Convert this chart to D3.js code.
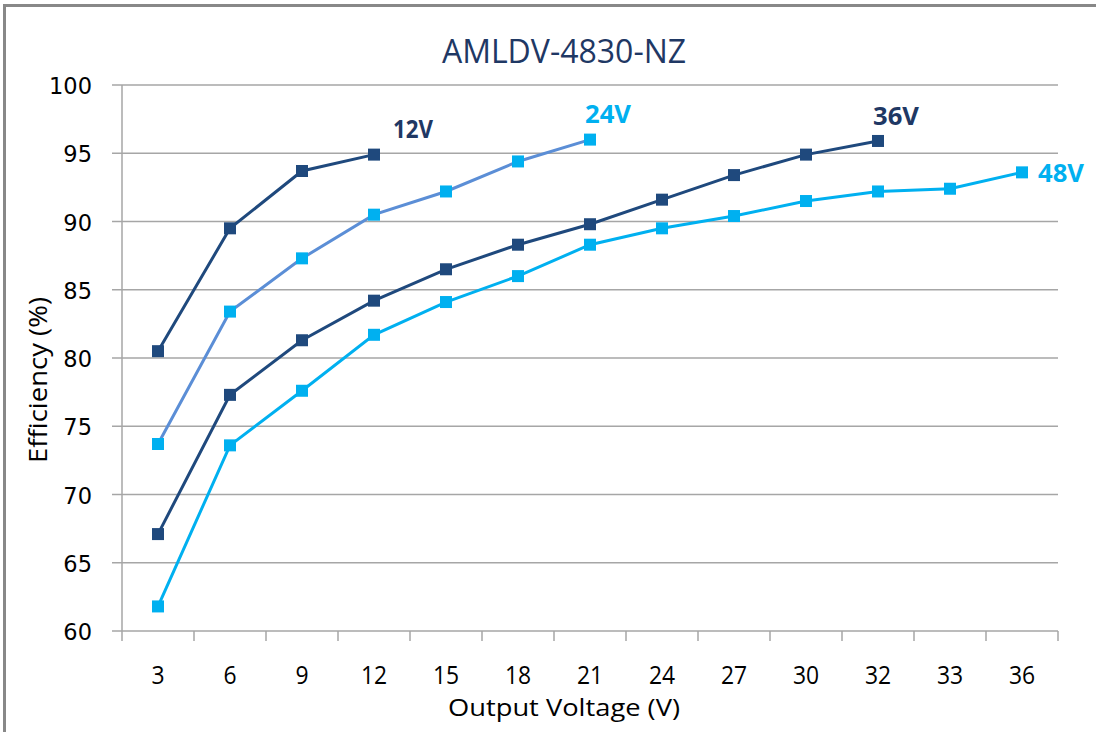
<!DOCTYPE html>
<html>
<head>
<meta charset="utf-8">
<script src="https://cdn.jsdelivr.net/npm/d3@7"></script>
<style>
  body { margin: 0; background: #fff; }
  svg { display: block; }
</style>
</head>
<body>
<div id="chart"></div>
<script>
// categories on the x axis (note: 32 comes before 33 in the source chart)
const voltages = ["3", "6", "9", "12", "15", "18", "21", "24", "27", "30", "32", "33", "36"];
const yTicks = [60, 65, 70, 75, 80, 85, 90, 95, 100];

const eff12 = [80.5, 89.5, 93.7, 94.9];
const eff24 = [73.7, 83.4, 87.3, 90.5, 92.2, 94.4, 96.0];
const eff36 = [67.1, 77.3, 81.3, 84.2, 86.5, 88.3, 89.8, 91.6, 93.4, 94.9, 95.9];
const eff48 = [61.8, 73.6, 77.6, 81.7, 84.1, 86.0, 88.3, 89.5, 90.4, 91.5, 92.2, 92.4, 93.6];

const series = [
    {name: "12V", values: eff12, line: "#1F497D", marker: "#1F497D", label: "#1F3864"},
    {name: "24V", values: eff24, line: "#5B8ED6", marker: "#00B0F0", label: "#00B0F0"},
    {name: "36V", values: eff36, line: "#1F497D", marker: "#1F497D", label: "#1F3864"},
    {name: "48V", values: eff48, line: "#00B0F0", marker: "#00B0F0", label: "#00B0F0"}
];

const W = 1096, H = 732;
const margin = {top: 85, right: 38, bottom: 101, left: 122};
const width = W - margin.left - margin.right;
const height = H - margin.top - margin.bottom;
const sans = "'Open Sans', sans-serif";

const svg = d3.select("#chart").append("svg")
    .attr("width", W)
    .attr("height", H);

// outer chart frame
svg.append("rect")
    .attr("x", 4.5).attr("y", 5.5)
    .attr("width", W + 20).attr("height", H + 20)
    .attr("fill", "none")
    .attr("stroke", "#888")
    .attr("stroke-width", 3);

svg.append("text")
    .attr("x", 564)
    .attr("y", 63)
    .attr("text-anchor", "middle")
    .attr("fill", "#1F3864")
    .style("font-family", sans)
    .style("font-size", "32px")
    .text("AMLDV-4830-NZ");

const g = svg.append("g")
    .attr("transform", `translate(${margin.left}, ${margin.top})`);

const x = d3.scaleBand()
    .domain(voltages)
    .range([0, width]);

const y = d3.scaleLinear()
    .domain([60, 100])
    .range([height, 0]);

// horizontal grid lines
g.append("g")
    .selectAll("line")
    .data(yTicks)
    .join("line")
    .attr("x1", -10)
    .attr("x2", width)
    .attr("y1", d => y(d))
    .attr("y2", d => y(d))
    .attr("stroke", "#A6A6A6")
    .attr("stroke-width", 1.5);

// y axis line
g.append("line")
    .attr("x1", 0).attr("x2", 0)
    .attr("y1", 0).attr("y2", height)
    .attr("stroke", "#A6A6A6")
    .attr("stroke-width", 1.5);

// y tick labels
g.append("g")
    .selectAll("text")
    .data(yTicks)
    .join("text")
    .attr("x", -30)
    .attr("y", d => y(d))
    .attr("dy", "0.4em")
    .attr("text-anchor", "end")
    .attr("fill", "#000")
    .style("font-family", "'DejaVu Sans', sans-serif")
    .style("font-size", "22.5px")
    .text(d => d);

// x axis ticks at category boundaries
const bounds = voltages.map(v => x(v)).concat([width]);
g.append("g")
    .selectAll("line")
    .data(bounds)
    .join("line")
    .attr("x1", d => d).attr("x2", d => d)
    .attr("y1", height).attr("y2", height + 10)
    .attr("stroke", "#A6A6A6")
    .attr("stroke-width", 1.5);

// x tick labels (narrowed a bit to look like the original condensed face)
g.append("g")
    .selectAll("text")
    .data(voltages)
    .join("text")
    .attr("transform", d => `translate(${x(d) + x.bandwidth() / 2}, ${height + 53}) scale(0.88, 1)`)
    .attr("text-anchor", "middle")
    .attr("fill", "#000")
    .style("font-family", sans)
    .style("font-size", "26px")
    .text(d => d);

svg.append("text")
    .attr("x", 564)
    .attr("y", 716)
    .attr("text-anchor", "middle")
    .attr("fill", "#000")
    .attr("textLength", 232)
    .attr("lengthAdjust", "spacingAndGlyphs")
    .style("font-family", sans)
    .style("font-size", "24px")
    .text("Output Voltage (V)");

svg.append("text")
    .attr("transform", `translate(47, 380) rotate(-90)`)
    .attr("text-anchor", "middle")
    .attr("fill", "#000")
    .attr("textLength", 166)
    .attr("lengthAdjust", "spacingAndGlyphs")
    .style("font-family", sans)
    .style("font-size", "25px")
    .text("Efficiency (%)");

const line = d3.line()
    .x((d, i) => x(voltages[i]) + x.bandwidth() / 2)
    .y(d => y(d));

const ms = 12;
series.forEach(s => {
    g.append("path")
        .datum(s.values)
        .attr("fill", "none")
        .attr("stroke", s.line)
        .attr("stroke-width", 3)
        .attr("d", line);

    g.append("g")
        .selectAll("rect")
        .data(s.values)
        .join("rect")
        .attr("x", (d, i) => x(voltages[i]) + x.bandwidth() / 2 - ms / 2)
        .attr("y", d => y(d) - ms / 2)
        .attr("width", ms)
        .attr("height", ms)
        .attr("fill", s.marker);
});

// series labels next to the last points
const labelPos = {
    "12V": {dx: 19, dy: -17, w: 40},
    "24V": {dx: -5, dy: -17, w: 46},
    "36V": {dx: -5, dy: -16, w: 46},
    "48V": {dx: 16, dy: 10, w: 46}
};
series.forEach(s => {
    const i = s.values.length - 1;
    const p = labelPos[s.name];
    g.append("text")
        .attr("x", x(voltages[i]) + x.bandwidth() / 2 + p.dx)
        .attr("y", y(s.values[i]) + p.dy)
        .attr("fill", s.label)
        .attr("textLength", p.w)
        .attr("lengthAdjust", "spacingAndGlyphs")
        .style("font-family", sans)
        .style("font-weight", "bold")
        .style("font-size", "25px")
        .text(s.name);
});
</script>
</body>
</html>
